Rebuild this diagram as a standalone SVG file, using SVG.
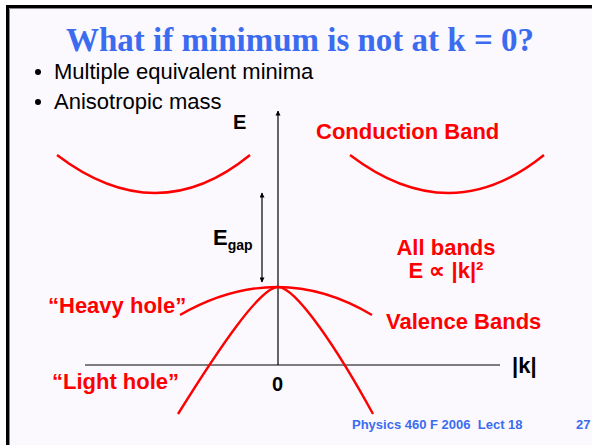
<svg xmlns="http://www.w3.org/2000/svg" width="592" height="445" viewBox="0 0 592 445">
<defs>
<style>
.red{fill:#ff0000;font-family:"Liberation Sans",Arial,sans-serif;font-weight:bold;font-size:22px}
.blk{fill:#000;font-family:"Liberation Sans",Arial,sans-serif}
.bl{fill:#000;font-family:"Liberation Sans",Arial,sans-serif;font-size:22px}
.curve{fill:none;stroke:#ff0000;stroke-width:2.4}
.axis{fill:none;stroke:#000;stroke-width:1.2}
.foot{fill:#3b6cf0;font-family:"Liberation Sans",Arial,sans-serif;font-weight:bold;font-size:13px}
</style>
<marker id="ah" viewBox="0 0 10 10" refX="9" refY="5" markerWidth="5" markerHeight="8" orient="auto" markerUnits="userSpaceOnUse">
<path d="M0,0 L10,5 L0,10 Z" fill="#000"/>
</marker>
<marker id="ah2" viewBox="0 0 10 10" refX="9" refY="5" markerWidth="6" markerHeight="5" orient="auto-start-reverse" markerUnits="userSpaceOnUse">
<path d="M0,0 L10,5 L0,10 Z" fill="#000"/>
</marker>
</defs>
<rect x="0" y="0" width="592" height="445" fill="#ffffff"/>
<rect x="9" y="8" width="583" height="437" fill="#fbf9fe"/>
<path d="M7.5,445 L7.5,6.5 L592,6.5" fill="none" stroke="#000" stroke-width="3"/>
<path d="M9.5,445 L9.5,8.5 L592,8.5" fill="none" stroke="#888" stroke-width="1"/>

<g id="title">
<text x="300" y="51" text-anchor="middle" font-family="'Liberation Serif','Times New Roman',serif" font-weight="bold" font-size="33" fill="#3b6cf0">What if minimum is not at k = 0?</text>
</g>
<g id="bullets">
<circle cx="38" cy="72" r="3" fill="#000"/>
<text class="bl" x="54" y="79">Multiple equivalent minima</text>
<circle cx="38" cy="102" r="3" fill="#000"/>
<text class="bl" x="54" y="109">Anisotropic mass</text>
</g>

<g id="connectors">
<line class="axis" x1="85" y1="365" x2="500" y2="365"/>
<line class="axis" x1="278" y1="365" x2="278" y2="111" marker-end="url(#ah)"/>
<line class="axis" x1="262" y1="238" x2="262" y2="193" marker-end="url(#ah2)"/>
<line class="axis" x1="262" y1="238" x2="262" y2="282" marker-end="url(#ah2)"/>
</g>

<g id="conduction-left">
<path class="curve" d="M57,155 Q157,231 250,155"/>
</g>
<g id="conduction-right">
<path class="curve" d="M350,155 Q450,231 544,155"/>
</g>
<g id="heavy-hole">
<path class="curve" d="M180,315 Q278,259 372,315"/>
</g>
<g id="light-hole">
<path class="curve" d="M178,414 C218,350 260,287 278,287 C296,287 338,350 373,414"/>
</g>

<g id="labels">
<text class="blk" x="233" y="129" font-weight="bold" font-size="20">E</text>
<text class="red" x="316" y="139">Conduction Band</text>
<text class="blk" x="213" y="245" font-weight="bold" font-size="22">E<tspan font-size="14" dy="5">gap</tspan></text>
<text class="red" x="446" y="255" text-anchor="middle">All bands</text>
<text class="red" x="446" y="278" text-anchor="middle">E ∝ |k|²</text>
<text class="red" x="48" y="313" font-size="20">“Heavy hole”</text>
<text class="red" x="386" y="329">Valence Bands</text>
<text class="blk" x="512" y="373" font-weight="bold" font-size="22">|k|</text>
<text class="red" x="52" y="389">“Light hole”</text>
<text class="blk" x="272" y="391" font-weight="bold" font-size="20">0</text>
</g>
<g id="footer">
<text class="foot" x="352" y="429" xml:space="preserve">Physics 460 F 2006  Lect 18</text>
<text class="foot" x="576" y="429">27</text>
</g>
</svg>
